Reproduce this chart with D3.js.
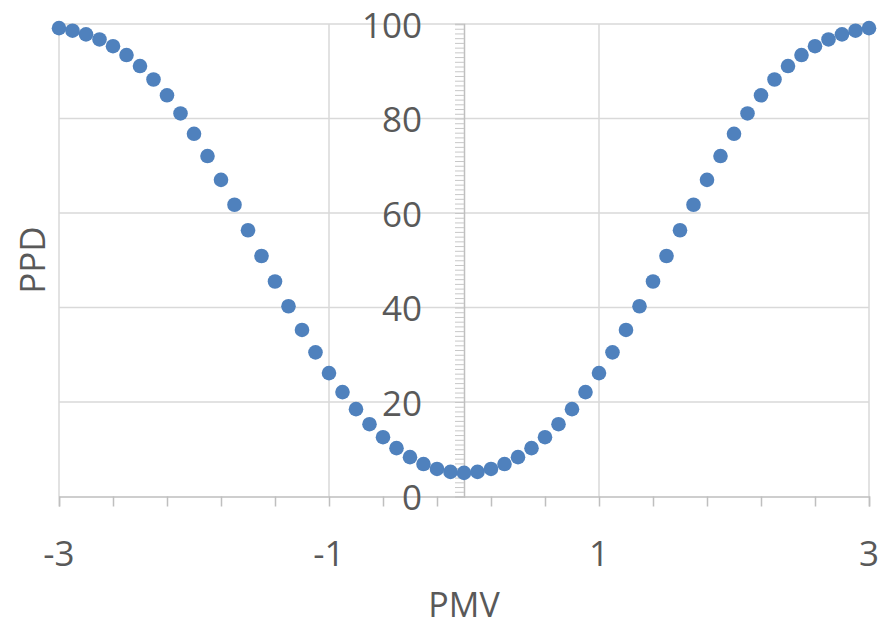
<!DOCTYPE html>
<html><head><meta charset="utf-8">
<script src="https://cdn.jsdelivr.net/npm/d3@7"></script>
<style>
html,body{margin:0;padding:0;background:#fff;}
text{font-family:"Open Sans",sans-serif;fill:#595959;}
</style></head>
<body><svg id="c" width="880" height="627"></svg>
<script>
const pmv = [-3.0,-2.9,-2.8,-2.7,-2.6,-2.5,-2.4,-2.3,-2.2,-2.1,-2.0,-1.9,-1.8,-1.7,-1.6,-1.5,-1.4,-1.3,-1.2,-1.1,-1.0,-0.9,-0.8,-0.7,-0.6,-0.5,-0.4,-0.3,-0.2,-0.1,0.0,
  0.1,0.2,0.3,0.4,0.5,0.6,0.7,0.8,0.9,1.0,1.1,1.2,1.3,1.4,1.5,1.6,1.7,1.8,1.9,2.0,2.1,2.2,2.3,2.4,2.5,2.6,2.7,2.8,2.9,3.0];
const ppd = [99.12,98.58,97.81,96.73,95.30,93.43,91.10,88.26,84.91,81.07,76.76,72.05,67.02,61.75,56.35,50.90,45.51,40.27,35.25,30.51,26.12,22.10,18.49,15.30,12.55,10.23,8.33,6.87,5.83,5.21,5.00,
  5.21,5.83,6.87,8.33,10.23,12.55,15.30,18.49,22.10,26.12,30.51,35.25,40.27,45.51,50.90,56.35,61.75,67.02,72.05,76.76,81.07,84.91,88.26,91.10,93.43,95.30,96.73,97.81,98.58,99.12];
const xTicks = [-3,-1,1,3];
const xMinor = [-3,-2.6,-2.2,-1.8,-1.4,-1,-0.6,-0.2,0.2,0.6,1,1.4,1.8,2.2,2.6,3];
const yTicks = [0,20,40,60,80,100];
const xTitle = "PMV", yTitle = "PPD";

const svg = d3.select("#c");
const x = d3.scaleLinear().domain([-3,3]).range([59,869]);
const y = d3.scaleLinear().domain([0,100]).range([496.5,24]);

// gridlines
svg.append("g").selectAll("line").data(yTicks.filter(d=>d>0)).join("line")
  .attr("x1",x(-3)).attr("x2",x(3)).attr("y1",d=>y(d)).attr("y2",d=>y(d))
  .attr("stroke","#d9d9d9").attr("stroke-width",1.5);
svg.append("g").selectAll("line").data(xTicks).join("line")
  .attr("x1",d=>x(d)).attr("x2",d=>x(d)).attr("y1",y(0)).attr("y2",y(100))
  .attr("stroke","#d9d9d9").attr("stroke-width",1.5);

// x axis
const xAxis = d3.axisBottom(x).tickValues(xMinor).tickSize(10).tickFormat("");
const gx = svg.append("g").attr("transform",`translate(0,${y(0)})`).call(xAxis);
gx.select(".domain").attr("stroke","#bfbfbf").attr("stroke-width",1.5);
gx.selectAll(".tick line").attr("stroke","#bfbfbf").attr("stroke-width",1.5);
svg.append("g").selectAll("text").data(xTicks).join("text")
  .attr("x",d=>x(d)).attr("y",552).attr("text-anchor","middle").attr("dominant-baseline","central")
  .attr("font-size",35).text(d=>d);

// y axis at x=0
const yAxis = d3.axisLeft(y).ticks(100).tickSize(9).tickFormat("");
const gy = svg.append("g").attr("transform",`translate(${x(0)},0)`).call(yAxis);
gy.select(".domain").attr("stroke","#bfbfbf").attr("stroke-width",1.5);
gy.selectAll(".tick line").attr("stroke","#c8c8c8").attr("stroke-width",1);
svg.append("g").selectAll("text").data(yTicks).join("text")
  .attr("x",422).attr("y",d=>y(d)).attr("text-anchor","end").attr("dominant-baseline","central")
  .attr("font-size",35).text(d=>d);

// points
svg.append("g").selectAll("circle").data(pmv.map((v,i)=>[v,ppd[i]])).join("circle")
  .attr("cx",d=>x(d[0])).attr("cy",d=>y(d[1])).attr("r",7.3).attr("fill","#4f81bd");

// titles
svg.append("text").attr("x",464).attr("y",617).attr("text-anchor","middle")
  .attr("font-size",34).text(xTitle);
svg.append("text").attr("transform","translate(31,260) rotate(-90)").attr("text-anchor","middle").attr("dominant-baseline","central")
  .attr("font-size",35).text(yTitle);
</script></body></html>
